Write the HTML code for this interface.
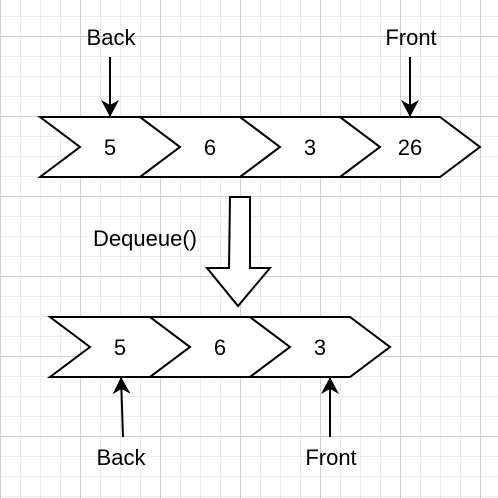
<!DOCTYPE html>
<html><head><style>
body{margin:0;background:#fff}
svg{display:block}
text{font-family:"Liberation Sans",sans-serif;font-size:22px;fill:#000}
</style></head><body>
<svg width="498" height="498" viewBox="0 0 498 498">
<defs>
<pattern id="mi" width="20" height="20" patternUnits="userSpaceOnUse" x="0" y="16">
<path d="M0 0.5H20M0.5 0V20" stroke="#ebebeb" stroke-width="1" fill="none"/>
</pattern>
<pattern id="ma" width="80" height="80" patternUnits="userSpaceOnUse" x="0" y="36">
<path d="M0 0.5H80M0.5 0V80" stroke="#d0d0d0" stroke-width="1" fill="none"/>
</pattern>
<marker id="ah" markerWidth="20" markerHeight="20" refX="17" refY="9" orient="auto" markerUnits="userSpaceOnUse">
<path d="M0 0L17 9L0 18L5 9Z" fill="#000"/>
</marker>
</defs>
<rect width="498" height="498" fill="url(#mi)"/>
<rect width="498" height="498" fill="url(#ma)"/>
<g fill="#fff" stroke="#000" stroke-width="2" stroke-linejoin="miter">
<path d="M40 117H140L180 147L140 177H40L80 147Z"/>
<path d="M140 117H240L280 147L240 177H140L180 147Z"/>
<path d="M240 117H340L380 147L340 177H240L280 147Z"/>
<path d="M340 117H440L480 147L440 177H340L380 147Z"/>
<path d="M50 317H150L190 347L150 377H50L90 347Z"/>
<path d="M150 317H250L290 347L250 377H150L190 347Z"/>
<path d="M250 317H350L390 347L350 377H250L290 347Z"/>
<path d="M230 197H250V268H270L238 306L207 268H229Z"/>
</g>
<g stroke="#000" stroke-width="2">
<line x1="110" y1="57" x2="110" y2="117" marker-end="url(#ah)"/>
<line x1="410" y1="57" x2="410" y2="117" marker-end="url(#ah)"/>
<line x1="123" y1="437" x2="121" y2="377" marker-end="url(#ah)"/>
<line x1="330" y1="437" x2="330" y2="377" marker-end="url(#ah)"/>
</g>
<g text-anchor="middle">
<text x="110" y="155">5</text><text x="210" y="155">6</text><text x="310" y="155">3</text><text x="410" y="155">26</text>
<text x="120" y="355">5</text><text x="220" y="355">6</text><text x="320" y="355">3</text>
<text x="111" y="45">Back</text><text x="411" y="45">Front</text>
<text x="121" y="465">Back</text><text x="331" y="465">Front</text>
<text x="145" y="246">Dequeue()</text>
</g>
</svg>
</body></html>
